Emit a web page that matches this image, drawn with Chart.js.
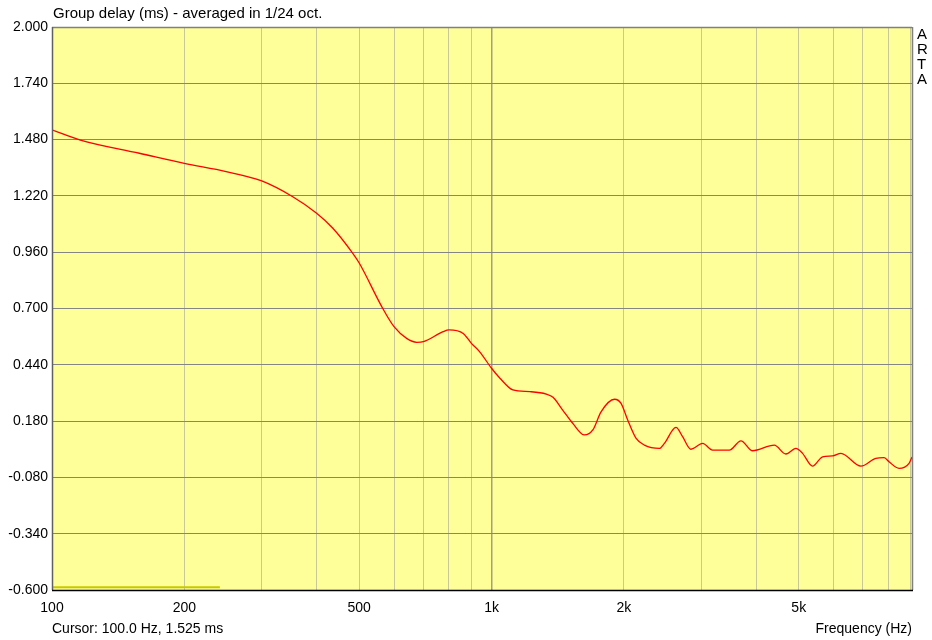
<!DOCTYPE html>
<html>
<head>
<meta charset="utf-8">
<script src="https://cdn.jsdelivr.net/npm/chart.js@4/dist/chart.umd.min.js"></script>
<style>
  html, body { margin: 0; padding: 0; background: #fff; }
  #wrap { width: 932px; height: 640px; position: relative; }
</style>
</head>
<body>
<div id="wrap"><canvas id="gdChart" width="932" height="640"></canvas></div>
<script>
  // Group delay curve, 1/24 octave smoothed
  const freqHz = [
    100, 116, 158, 200, 249, 300, 353, 400, 435, 483, 500, 565, 600, 641, 676, 700,
    776, 800, 862, 900, 940, 1000, 1045, 1118, 1222, 1332, 1380, 1452, 1530, 1627,
    1700, 1775, 1904, 1971, 2041, 2133, 2228, 2409, 2473, 2628, 2721, 2843, 3022,
    3184, 3475, 3694, 3926, 4398, 4674, 4925, 5100, 5375, 5665, 5970, 6235, 6925,
    7485, 7820, 8025, 8455, 8912, 9050
  ];
  const delayMs = [
    1.525, 1.478, 1.417, 1.370, 1.332, 1.289, 1.216, 1.140, 1.072, 0.956, 0.910, 0.702,
    0.616, 0.562, 0.544, 0.547, 0.593, 0.601, 0.585, 0.539, 0.500, 0.424, 0.378, 0.324,
    0.316, 0.305, 0.290, 0.231, 0.170, 0.116, 0.139, 0.223, 0.281, 0.262, 0.185, 0.100,
    0.069, 0.054, 0.077, 0.151, 0.108, 0.050, 0.077, 0.046, 0.046, 0.089, 0.043, 0.069,
    0.028, 0.054, 0.031, -0.028, 0.015, 0.019, 0.031, -0.028, 0.008, 0.011, -0.008,
    -0.038, -0.015, 0.014
  ];
  // short marker along the bottom edge
  const markerHz = [100, 241];
  const markerMs = [-0.587, -0.587];

  const yTicks = [-0.6, -0.34, -0.08, 0.18, 0.44, 0.7, 0.96, 1.22, 1.48, 1.74, 2.0];
  const xGrid = [100, 200, 300, 400, 500, 600, 700, 800, 900, 1000, 2000, 3000, 4000, 5000, 6000, 7000, 8000, 9000];
  const xLabels = { 100: '100', 200: '200', 500: '500', 1000: '1k', 2000: '2k', 5000: '5k' };

  const FONT = 'Liberation Sans, Arial, sans-serif';

  const frame = {
    id: 'frame',
    beforeDraw(chart) {
      const { ctx, chartArea: a } = chart;
      ctx.save();
      ctx.fillStyle = '#ffff99';
      ctx.fillRect(a.left, a.top, a.right - a.left, a.bottom - a.top);
      ctx.restore();
    },
    afterDraw(chart) {
      const { ctx, chartArea: a } = chart;
      ctx.save();
      ctx.lineWidth = 1.5;
      ctx.strokeStyle = '#808080';
      ctx.beginPath();
      ctx.moveTo(a.left, a.top + 0.5); ctx.lineTo(a.right, a.top + 0.5);
      ctx.moveTo(a.right + 0.5, a.top); ctx.lineTo(a.right + 0.5, a.bottom);
      ctx.stroke();
      ctx.strokeStyle = '#606060';
      ctx.beginPath();
      ctx.moveTo(a.left + 0.5, a.top); ctx.lineTo(a.left + 0.5, a.bottom);
      ctx.stroke();
      ctx.strokeStyle = '#000';
      ctx.beginPath();
      ctx.moveTo(a.left, a.bottom + 0.5); ctx.lineTo(a.right + 1, a.bottom + 0.5);
      ctx.stroke();

      ctx.fillStyle = '#000';
      ctx.textBaseline = 'middle';
      ctx.textAlign = 'left';
      ctx.font = '15px ' + FONT;
      ctx.fillText('Group delay (ms) - averaged in 1/24 oct.', 53, 14);
      ctx.font = '14px ' + FONT;
      ctx.fillText('Cursor: 100.0 Hz, 1.525 ms', 52, 629);
      ctx.textAlign = 'right';
      ctx.fillText('Frequency (Hz)', 912, 629);
      ctx.font = '15px ' + FONT;
      ctx.textAlign = 'left';
      ['A', 'R', 'T', 'A'].forEach((c, i) => ctx.fillText(c, 917, 35 + i * 15));
      ctx.restore();
    }
  };

  const ctx = document.getElementById('gdChart').getContext('2d');
  const gdChart = new Chart(ctx, {
    type: 'line',
    data: {
      datasets: [
        {
          label: 'Group delay',
          data: freqHz.map((f, i) => ({ x: f, y: delayMs[i] })),
          borderColor: '#ff0000',
          borderWidth: 1.3,
          pointRadius: 0,
          cubicInterpolationMode: 'monotone',
          order: 1
        },
        {
          label: 'marker',
          data: markerHz.map((f, i) => ({ x: f, y: markerMs[i] })),
          borderColor: '#c8c800',
          borderWidth: 2,
          pointRadius: 0,
          order: 2
        }
      ]
    },
    options: {
      responsive: false,
      animation: false,
      layout: { padding: { top: 27, right: 20, left: 0, bottom: 0 } },
      plugins: {
        legend: { display: false },
        title: { display: false },
        tooltip: { enabled: false }
      },
      scales: {
        x: {
          type: 'logarithmic',
          min: 100,
          max: 9050,
          afterBuildTicks(scale) { scale.ticks = xGrid.map(v => ({ value: v })); },
          afterFit(scale) { scale.height = 50; },
          border: { display: false },
          grid: {
            drawTicks: false,
            color: c => c.tick && c.tick.value === 1000 ? 'rgba(110,110,110,0.65)' : 'rgba(120,120,150,0.4)',
            lineWidth: c => c.tick && c.tick.value === 1000 ? 1.5 : 1
          },
          ticks: {
            autoSkip: false,
            maxRotation: 0,
            padding: 10,
            color: '#000',
            font: { family: FONT, size: 14 },
            callback: v => xLabels[v] || ''
          }
        },
        y: {
          min: -0.6,
          max: 2.0,
          afterBuildTicks(scale) { scale.ticks = yTicks.map(v => ({ value: v })); },
          afterFit(scale) { scale.width = 52; },
          border: { display: false },
          grid: { drawTicks: false, color: '#858585', lineWidth: 1 },
          ticks: {
            padding: 4,
            color: '#000',
            font: { family: FONT, size: 14 },
            callback: v => v.toFixed(3)
          }
        }
      }
    },
    plugins: [frame]
  });
</script>
</body>
</html>
